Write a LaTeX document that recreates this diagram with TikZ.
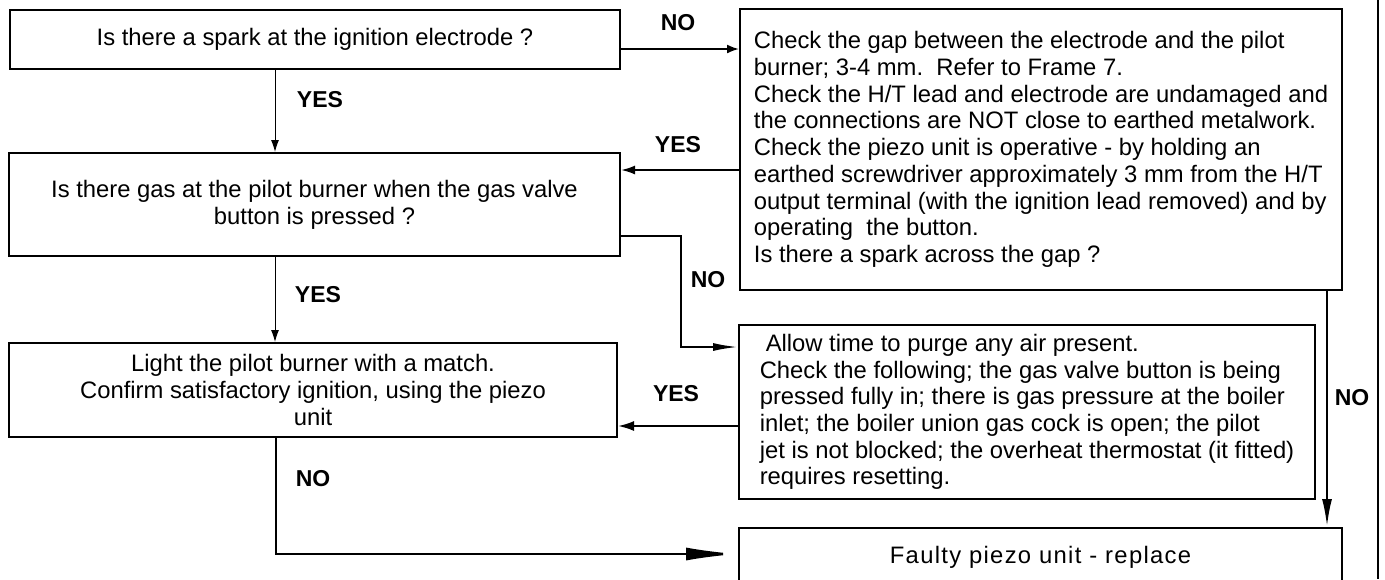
\documentclass[tikz,border=0pt]{standalone}
\usepackage{fontspec}
\setmainfont{Liberation Sans}
\usetikzlibrary{calc, arrows.meta}
\tikzset{
  box/.style={draw, line width=1pt, inner sep=0pt, font=\fontsize{11.9}{13.35}\selectfont},
  lab/.style={font=\fontsize{11.5}{13}\selectfont\bfseries},
  thinarr/.style={line width=0.5pt, -{Latex[length=6pt,width=4pt]}},
  arr/.style={line width=1pt},
}

\begin{document}
\begin{tikzpicture}[x=0.5pt, y=-0.5pt]
        \useasboundingbox (0,0) rectangle (1385,579);
        %riquadri a sinistra
        \node[box, minimum width=305pt, minimum height=29.5pt] (spark) at (315,39.5) {Is there a spark at the ignition electrode ?};
        \node[box, minimum width=305.5pt, minimum height=51.5pt, align=center] (gas) at (314.5,204.5) {Is there gas at the pilot burner when the gas valve\\button is pressed ?};
        \node[box, minimum width=304pt, minimum height=47pt, align=center] (light) at (313,390) {Light the pilot burner with a match.\\Confirm satisfactory ignition, using the piezo\\unit};
        %riquadri a destra
        \node[box, minimum width=301pt, minimum height=140.5pt, align=left] (check) at (1041,149.5) {Check the gap between the electrode and the pilot\\burner; 3-4 mm.\ \ Refer to Frame 7.\\Check the H/T lead and electrode are undamaged and\\the connections are NOT close to earthed metalwork.\\Check the piezo unit is operative - by holding an\\earthed screwdriver approximately 3 mm from the H/T\\output terminal (with the ignition lead removed) and by\\operating\ \ the button.\\Is there a spark across the gap ?};
        \node[box, minimum width=288pt, minimum height=87pt, align=left] (purge) at (1027,412) {\hspace{3pt}Allow time to purge any air present.\\Check the following; the gas valve button is being\\pressed fully in; there is gas pressure at the boiler\\inlet; the boiler union gas cock is open; the pilot\\jet is not blocked; the overheat thermostat (it fitted)\\requires resetting.};
        \node[box, minimum width=301.5pt, minimum height=29pt] (faulty) at (1040.5,557) {\raisebox{2.5pt}{\addfontfeature{LetterSpace=5.5}Faulty piezo unit - replace}};
        %punti di partenza e arrivo delle frecce
        \coordinate (s1) at ($(spark.east)+(0,9.5)$);
        \coordinate (s2) at ($(spark.south)+(-40,0)$);
        \coordinate (g1) at ($(gas.east)+(0,-34.5)$);
        \coordinate (g2) at ($(gas.east)+(0,31.5)$);
        \coordinate (g3) at ($(gas.south)+(-39.5,0)$);
        \coordinate (p1) at ($(purge.west)+(0,-65)$);
        \coordinate (p2) at ($(purge.west)+(0,14)$);
        \coordinate (l1) at ($(light.south)+(-37,0)$);
        \coordinate (f1) at ($(faulty.west)+(0,-3)$);
        \coordinate (c1) at ($(check.south)+(286,0)$);
        %frecce sottili verticali
        \draw[thinarr] (s2) -- (s2 |- gas.north);
        \draw[thinarr] (g3) -- (g3 |- light.north);
        %frecce spesse
        \draw[arr, -{Latex[length=6pt,width=4.5pt]}] (s1) -- (s1 -| check.west);
        \draw[arr, -{Latex[length=7pt,width=4.5pt]}] (g1 -| check.west) -- (g1);
        \draw[arr, -{Latex[length=12.5pt,width=4pt]}] (g2) -- ++(60,0) |- (p1);
        \draw[arr, -{Latex[length=8pt,width=5pt]}] (p2) -- (p2 -| light.east);
        \draw[arr, line width=1.25pt, -{Latex[length=26pt,width=6.5pt]}] (l1) |- (f1);
        \draw[arr, line width=1.25pt, -{Latex[length=14pt,width=5pt]}] (c1) -- (c1 |- faulty.north);
        %linea verticale a destra
        \draw[line width=1.25pt] (1378,0) -- (1378,579);
        %etichette YES / NO
        \node[lab] (no1) at (678,23) {NO};
        \node[lab] (yes1) at (320,100) {YES};
        \node[lab] (yes2) at (678,145) {YES};
        \node[lab] (no2) at (708,280) {NO};
        \node[lab] (yes3) at (318,295) {YES};
        \node[lab] (yes4) at (676,394) {YES};
        \node[lab] (no3) at (313,479) {NO};
        \node[lab] (no4) at (1352,398) {NO};
\end{tikzpicture}
\end{document}
